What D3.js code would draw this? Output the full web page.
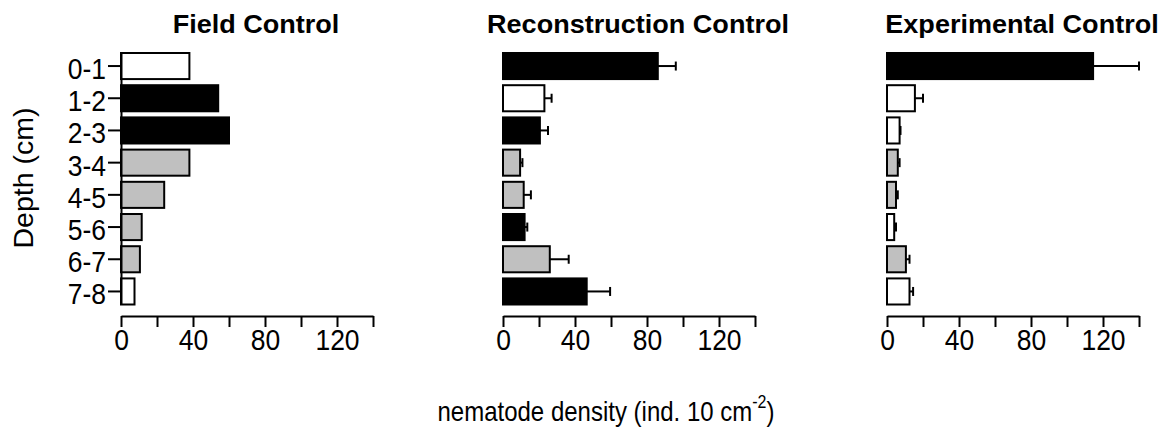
<!DOCTYPE html>
<html>
<head>
<meta charset="utf-8">
<script src="https://cdn.jsdelivr.net/npm/d3@7"></script>
<style>
  body { margin: 0; background: #fff; }
  text { font-family: "Liberation Sans", Arial, sans-serif; fill: #000; }
</style>
</head>
<body>
<script>
// depth layers (cm)
var depths = ["0-1", "1-2", "2-3", "3-4", "4-5", "5-6", "6-7", "7-8"];

// mean nematode density per layer, and the error bar (one side)
var fieldMean = [38, 54, 60, 38, 24, 11.5, 10.5, 7.5];
var fieldErr  = [0, 0, 0, 0, 0, 0, 0, 0];
var fieldFill = ["w", "b", "b", "g", "g", "g", "g", "w"];

var reconMean = [86, 23, 20.5, 9.5, 11.5, 12, 26, 46.5];
var reconErr  = [10, 4, 4.5, 1.3, 4, 1.5, 10.5, 13];
var reconFill = ["b", "w", "b", "g", "g", "b", "g", "b"];

var expMean = [114.5, 15.5, 7, 6, 5, 4, 10.5, 12.5];
var expErr  = [25.5, 4.5, 0.5, 1, 1, 1, 2, 2];
var expFill = ["b", "w", "w", "g", "g", "w", "g", "w"];

var panelTitles = ["Field Control", "Reconstruction Control", "Experimental Control"];
var xTicks = [0, 20, 40, 60, 80, 100, 120, 140];
var xLabels = [0, 40, 80, 120];

var w = 1170, h = 428;
var colours = { w: "#ffffff", b: "#000000", g: "#c0c0c0" };

var svg = d3.select("body").append("svg")
  .attr("width", w)
  .attr("height", h);

var panels = [
  { title: panelTitles[0], mean: fieldMean, err: fieldErr, fill: fieldFill, x0: 121, yAxis: true },
  { title: panelTitles[1], mean: reconMean, err: reconErr, fill: reconFill, x0: 503, yAxis: false },
  { title: panelTitles[2], mean: expMean, err: expErr, fill: expFill, x0: 887, yAxis: false }
];

var y = d3.scaleBand()
  .domain(depths)
  .range([53, 304.5])
  .paddingInner(0.19)
  .paddingOuter(0);

panels.forEach(function(p) {
  var x = d3.scaleLinear().domain([0, 140]).range([p.x0, p.x0 + 252]);
  var g = svg.append("g");

  // bars
  g.selectAll("rect.bar")
    .data(depths)
    .enter()
    .append("rect")
    .attr("class", "bar")
    .attr("x", x(0))
    .attr("y", function(d) { return y(d); })
    .attr("width", function(d, i) { return x(p.mean[i]) - x(0); })
    .attr("height", y.bandwidth())
    .attr("fill", function(d, i) { return colours[p.fill[i]]; })
    .attr("stroke", "#000")
    .attr("stroke-width", 2);

  // error bars
  depths.forEach(function(d, i) {
    if (!p.err[i]) return;
    var cy = y(d) + y.bandwidth() / 2;
    var x1 = x(p.mean[i]), x2 = x(p.mean[i] + p.err[i]);
    g.append("line")
      .attr("x1", x1).attr("x2", x2)
      .attr("y1", cy).attr("y2", cy)
      .attr("stroke", "#000").attr("stroke-width", 2);
    g.append("line")
      .attr("x1", x2).attr("x2", x2)
      .attr("y1", cy - 4.5).attr("y2", cy + 4.5)
      .attr("stroke", "#000").attr("stroke-width", 2);
  });

  // x axis
  var xAxis = d3.axisBottom(x)
    .tickValues(xTicks)
    .tickSize(11)
    .tickSizeOuter(0)
    .tickPadding(1.2)
    .tickFormat(function(d) { return xLabels.indexOf(d) >= 0 ? d : ""; });

  var ax = g.append("g")
    .attr("transform", "translate(0,316)")
    .call(xAxis);
  ax.select(".domain").attr("stroke-width", 2);
  ax.selectAll(".tick line").attr("stroke-width", 2);
  ax.selectAll(".tick text")
    .attr("font-size", 26.5)
    .attr("transform", "scale(1,1.1)")
    .attr("font-family", "Liberation Sans, Arial, sans-serif");

  // y axis on the first panel only
  if (p.yAxis) {
    var yAxis = d3.axisLeft(y)
      .tickSize(13)
      .tickSizeOuter(0)
      .tickPadding(2);
    var ay = g.append("g")
      .attr("transform", "translate(" + x(0) + ",0)")
      .call(yAxis);
    ay.select(".domain").attr("stroke-width", 2);
    ay.selectAll(".tick line").attr("stroke-width", 2);
    ay.selectAll(".tick text")
      .attr("font-size", 26.5)
      .attr("dy", 11.8)
      .attr("transform", "scale(1,1.1)")
      .attr("font-family", "Liberation Sans, Arial, sans-serif");
  }

  // panel title
  g.append("text")
    .attr("transform", "translate(" + (p.x0 + 135) + ",33) scale(1.04,0.96)")
    .attr("text-anchor", "middle")
    .attr("font-size", 26)
    .attr("font-weight", "bold")
    .text(p.title);
});

// y axis title
svg.append("text")
  .attr("transform", "translate(33,178) rotate(-90)")
  .attr("text-anchor", "middle")
  .attr("font-size", 28.5)
  .text("Depth (cm)");

// x axis title
var xt = svg.append("text")
  .attr("transform", "translate(606,421) scale(1,1.15)")
  .attr("text-anchor", "middle")
  .attr("font-size", 24);
xt.append("tspan").text("nematode density (ind. 10 cm");
xt.append("tspan").attr("dy", -11).attr("font-size", 16).text("-2");
xt.append("tspan").attr("dy", 11).text(")");
</script>
</body>
</html>
